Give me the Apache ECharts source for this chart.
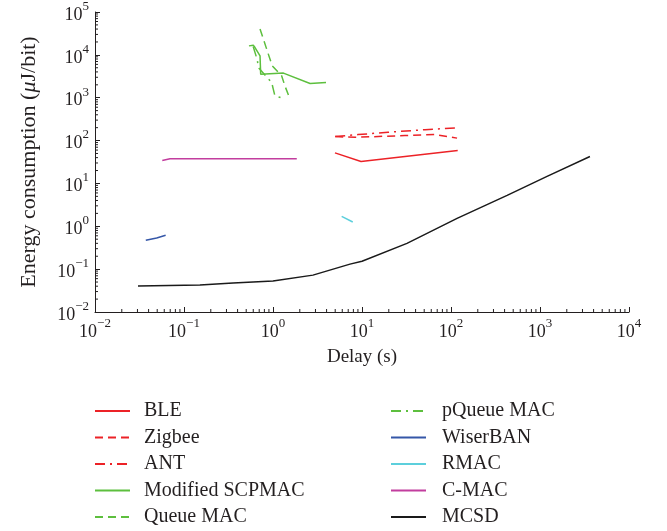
<!DOCTYPE html>
<html>
<head>
<meta charset="utf-8">
<script src="https://cdn.jsdelivr.net/npm/echarts@6/dist/echarts.min.js"></script>
<style>
html,body{margin:0;padding:0;background:#fff;}
#chart{width:667px;height:531px;}
</style>
</head>
<body>
<div id="chart"></div>
<script>
// ---- Data (delay in s, energy in uJ/bit) ----
const bleDelay = [4.97, 9.75, 119];
const bleEnergy = [51.7, 32.5, 58.5];

const zigbeeDelay = [5.0, 8.35, 30.4, 66, 117];
const zigbeeEnergy = [124, 119, 131, 138, 114];

const antDelay = [5.0, 9.0, 19.6, 51, 111];
const antEnergy = [124, 138, 156, 180, 197];

const scpmacDelay = [0.537, 0.60, 0.628, 0.715, 0.727, 1.31, 2.61, 3.94];
const scpmacEnergy = [16200, 16800, 14800, 9480, 3550, 3750, 2150, 2270];

const queueDelay = [0.715, 0.886, 0.982, 1.25, 1.36, 1.55];
const queueEnergy = [40300, 10400, 5550, 3240, 1900, 930];

const pqueueDelay = [0.60, 0.667, 0.684, 0.967, 1.007, 1.05, 1.25];
const pqueueEnergy = [15400, 7530, 5070, 2270, 1590, 1110, 990];

const wiserDelay = [0.0372, 0.0493, 0.0622];
const wiserEnergy = [0.472, 0.535, 0.617];

const rmacDelay = [5.91, 7.87];
const rmacEnergy = [1.71, 1.26];

const cmacDelay = [0.057, 0.0696, 1.85];
const cmacEnergy = [34.3, 37.5, 37.5];

const mcsdDelay = [0.0304, 0.151, 0.356, 1.0, 2.81, 7.33, 10, 32, 117, 427, 1200, 3640];
const mcsdEnergy = [0.0403, 0.0425, 0.0472, 0.0526, 0.0725, 0.131, 0.153, 0.40, 1.53, 5.27, 14.6, 42.5];

const xMin = 0.01, xMax = 10000;
const yMin = 0.01, yMax = 100000;
const legendCol1 = ['BLE', 'Zigbee', 'ANT', 'Modified SCPMAC', 'Queue MAC'];
const legendCol2 = ['pQueue MAC', 'WiserBAN', 'RMAC', 'C-MAC', 'MCSD'];

// ---- helpers ----
function zip(a, b) { return a.map((v, i) => [v, b[i]]); }
const FONT = '"Liberation Serif", "DejaVu Serif", serif';
const TXT = '#231f20';
const RED = '#ec2227', GREEN = '#5dbf3e', BLUE = '#3557a8', CYAN = '#5ccfdc', MAG = '#c23d9e', BLK = '#1a1a1a';
const DASH = [8, 5], DASHDOT = [10, 5, 2, 5];

function mkLine(name, dx, dy, color, type) {
  return {
    name: name, type: 'line', data: zip(dx, dy), symbol: 'none',
    lineStyle: { color: color, width: 1.5, type: type || 'solid' },
    itemStyle: { color: color }, z: 3
  };
}

// minor tick values (2..9 x 10^k)
const minorTicks = [];
for (let k = -2; k <= 3; k++) for (let m = 2; m <= 9; m++) minorTicks.push([m * Math.pow(10, k), yMin, 0]);
for (let k = -2; k <= 4; k++) for (let m = 2; m <= 9; m++) minorTicks.push([xMin, m * Math.pow(10, k), 1]);

function supLabel(v) {
  const e = Math.round(Math.log10(v));
  return '{b|10}{s|' + String(e).replace('-', '\u2212') + '}';
}
const labelRich = {
  b: { fontSize: 18, fontFamily: FONT, color: TXT, lineHeight: 24, verticalAlign: 'bottom' },
  s: { fontSize: 13, fontFamily: FONT, color: TXT, lineHeight: 14, verticalAlign: 'top' }
};

// one legend block per entry so rows keep the reference spacing
const legends = [];
[[legendCol1, 94, 9], [legendCol2, 390, 11]].forEach(function (col) {
  col[0].forEach(function (name, i) {
    legends.push({
      data: [name], orient: 'vertical', left: col[1], top: 401 + i * 26.5, padding: 0,
      itemWidth: 35, itemHeight: 14,
      itemStyle: { color: 'rgba(0,0,0,0)', borderWidth: 0, opacity: 0 },
      textStyle: { fontSize: 20, fontFamily: FONT, color: TXT, padding: [0, 0, 0, col[2]] },
      selectedMode: false
    });
  });
});

const chart = echarts.init(document.getElementById('chart'), null, { renderer: 'canvas' });
const option = {
  animation: false,
  backgroundColor: '#ffffff',
  grid: { left: 95, right: 38, top: 11, bottom: 219, containLabel: false },
  xAxis: {
    type: 'log', logBase: 10, min: xMin, max: xMax,
    name: 'Delay (s)', nameLocation: 'middle', nameGap: 36,
    nameTextStyle: { fontSize: 19, fontFamily: FONT, color: TXT },
    axisLine: { show: true, lineStyle: { color: TXT, width: 1 } },
    axisTick: { show: true, inside: true, length: 5, lineStyle: { color: TXT } },
    minorTick: { show: false },
    splitLine: { show: false },
    axisLabel: { margin: 5, formatter: supLabel, rich: labelRich }
  },
  yAxis: {
    type: 'log', logBase: 10, min: yMin, max: yMax,
    name: 'Energy consumption ({i|\u03bc}J/bit)', nameLocation: 'middle', nameGap: 55,
    nameTextStyle: { fontSize: 22, fontFamily: FONT, color: TXT,
      rich: { i: { fontSize: 22, fontFamily: FONT, fontStyle: 'italic', color: TXT } } },
    axisLine: { show: true, lineStyle: { color: TXT, width: 1 } },
    axisTick: { show: true, inside: true, length: 5, lineStyle: { color: TXT } },
    minorTick: { show: false },
    splitLine: { show: false },
    axisLabel: { margin: 6, formatter: supLabel, rich: labelRich }
  },
  legend: legends,
  series: [
    mkLine('BLE', bleDelay, bleEnergy, RED),
    mkLine('Zigbee', zigbeeDelay, zigbeeEnergy, RED, DASH),
    mkLine('ANT', antDelay, antEnergy, RED, DASHDOT),
    mkLine('Modified SCPMAC', scpmacDelay, scpmacEnergy, GREEN),
    mkLine('Queue MAC', queueDelay, queueEnergy, GREEN, DASH),
    mkLine('pQueue MAC', pqueueDelay, pqueueEnergy, GREEN, DASHDOT),
    mkLine('WiserBAN', wiserDelay, wiserEnergy, BLUE),
    mkLine('RMAC', rmacDelay, rmacEnergy, CYAN),
    mkLine('C-MAC', cmacDelay, cmacEnergy, MAG),
    mkLine('MCSD', mcsdDelay, mcsdEnergy, BLK),
    {
      name: '_minor', type: 'custom', data: minorTicks, silent: true, clip: false, z: 2,
      encode: { x: 0, y: 1 },
      renderItem: function (params, api) {
        const p = api.coord([api.value(0), api.value(1)]);
        const isY = api.value(2) === 1;
        return {
          type: 'line',
          shape: isY ? { x1: p[0], y1: p[1], x2: p[0] + 3, y2: p[1] } : { x1: p[0], y1: p[1], x2: p[0], y2: p[1] - 3 },
          style: { stroke: TXT, lineWidth: 1 }
        };
      }
    }
  ]
};
chart.setOption(option);
</script>
</body>
</html>
